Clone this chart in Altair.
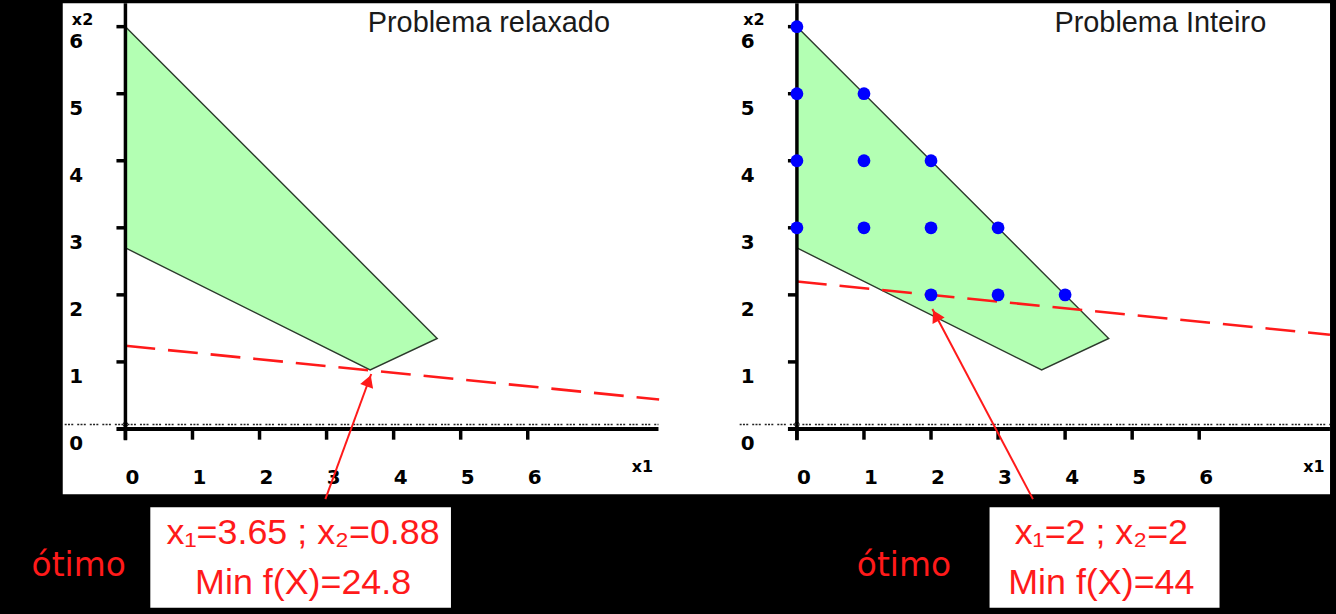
import math
import altair as alt
import pandas as pd

# ---------------- data ----------------
tick_values = [0, 1, 2, 3, 4, 5, 6]
tick_labels = ["0", "1", "2", "3", "4", "5", "6"]

# feasible region (upper and lower boundary at the break points)
region_x = [0.0, 3.65, 4.65]
region_upper = [6.0, 2.35, 1.35]
region_lower = [2.7, 0.88, 1.35]

# objective function lines (f = 24.8 and f = 44)
obj_relax_x = [0.0, 7.96]
obj_relax_y = [1.24, 0.44]
obj_int_x = [0.0, 7.95]
obj_int_y = [2.2, 1.405]

# integer feasible points
int_pts_x = [0, 0, 1, 0, 1, 2, 0, 1, 2, 3, 2, 3, 4]
int_pts_y = [6, 5, 5, 4, 4, 4, 3, 3, 3, 3, 2, 2, 2]

titles = ["Problema relaxado", "Problema Inteiro"]
box_line1 = ["x₁=3.65 ; x₂=0.88", "x₁=2 ; x₂=2"]
box_line2 = ["Min f(X)=24.8", "Min f(X)=44"]
optimum_word = "ótimo"
axis_names = ["x1", "x2"]

arrow_tip_x = [3.666, 2.02]
arrow_tip_y = [0.82, 1.79]
arrow_tail_x = [2.982, 3.52]
arrow_tail_y = [-1.047, -1.047]

# ---------------- layout (pixels) ----------------
W, H = 1336, 614
PX = 67.35                 # pixels per unit
AXIS_Y = 427.5             # pixel row of x2 = 0
ORIGIN_X = [126.0, 800.5]  # pixel column of x1 = 0 for each panel
OFF = [0.0, (ORIGIN_X[1] - ORIGIN_X[0]) / PX]   # panel shift in x units

X_DOM = [-ORIGIN_X[0] / PX, (W - ORIGIN_X[0]) / PX]
Y_DOM = [-(H - AXIS_Y) / PX, AXIS_Y / PX]

RED = "#ff1a1a"
GREEN = "#b3ffb3"
SANS = "Liberation Sans, Arial, sans-serif"

xs = alt.Scale(domain=X_DOM, nice=False, zero=False)
ys = alt.Scale(domain=Y_DOM, nice=False, zero=False)


def X(f):
    return alt.X(f, type="quantitative", scale=xs, axis=None)


def Y(f):
    return alt.Y(f, type="quantitative", scale=ys, axis=None)


def df(i, **cols):
    """DataFrame whose x-like columns (names starting with 'x') are shifted into panel i."""
    d = pd.DataFrame(cols)
    for c in d.columns:
        if c.startswith("x"):
            d[c] = d[c] + OFF[i]
    return d


layers = []

# white drawing area (one piece for both panels)
layers.append(alt.Chart(pd.DataFrame({"x": [-0.935], "x2": [X_DOM[1]],
                                      "y": [-0.973], "y2": [Y_DOM[1]]})).mark_rect(
    color="white").encode(x=X("x"), x2="x2", y=Y("y"), y2="y2"))


def panel(i):
    out = []
    # feasible region
    out.append(alt.Chart(df(i, x=region_x, up=region_upper, lo=region_lower)).mark_area(
        fill=GREEN, fillOpacity=1, stroke="#2c3a2c", strokeWidth=1.4
    ).encode(x=X("x"), y=Y("up"), y2="lo"))

    # objective line
    ox, oy = (obj_relax_x, obj_relax_y) if i == 0 else (obj_int_x, obj_int_y)
    out.append(alt.Chart(df(i, x=ox, y=oy)).mark_line(
        color=RED, strokeDash=[30, 13], strokeWidth=2.6
    ).encode(x=X("x"), y=Y("y")))

    # dotted line just above the x1 axis
    dot_start = -0.906 if i == 0 else -0.854
    out.append(alt.Chart(df(i, x=[dot_start], x2=[7.95], y=[0.067])).mark_rule(
        color="#222222", strokeDash=[2, 1.3, 2, 1.3, 2, 4], strokeWidth=1.6
    ).encode(x=X("x"), x2="x2", y=Y("y")))
    out.append(alt.Chart(df(i, x=[0], y=[0.067])).mark_point(
        shape="circle", size=22, filled=True, fill="white", stroke="#222222",
        strokeWidth=1, opacity=1).encode(x=X("x"), y=Y("y")))

    # axes
    out.append(alt.Chart(df(i, x=[0], y=[-0.17], y2=[Y_DOM[1]])).mark_rule(
        color="black", strokeWidth=3.5).encode(x=X("x"), y=Y("y"), y2="y2"))
    out.append(alt.Chart(df(i, x=[-0.134], x2=[7.95], y=[0])).mark_rule(
        color="black", strokeWidth=4).encode(x=X("x"), x2="x2", y=Y("y")))

    n = len(tick_values)
    out.append(alt.Chart(df(i, x=tick_values, y=[0] * n, y2=[-0.16] * n)).mark_rule(
        color="black", strokeWidth=3.5).encode(x=X("x"), y=Y("y"), y2="y2"))
    out.append(alt.Chart(df(i, x=[0] * (n - 1), x2=[-0.134] * (n - 1),
                            y=tick_values[1:])).mark_rule(
        color="black", strokeWidth=3.5).encode(x=X("x"), x2="x2", y=Y("y")))

    lab_style = dict(font="DejaVu Sans", fontWeight="bold", fontSize=20,
                     color="black", align="center", baseline="middle")
    out.append(alt.Chart(df(i, x=[v + 0.104 for v in tick_values], y=[-0.735] * n,
                            lab=tick_labels)).mark_text(**lab_style).encode(
        x=X("x"), y=Y("y"), text="lab:N"))
    out.append(alt.Chart(df(i, x=[-0.735] * n, y=[v - 0.23 for v in tick_values],
                            lab=tick_labels)).mark_text(**lab_style).encode(
        x=X("x"), y=Y("y"), text="lab:N"))

    out.append(alt.Chart(df(i, t=axis_names, x=[7.71, -0.64], y=[-0.57, 6.095])).mark_text(
        font="DejaVu Sans", fontWeight="bold", fontSize=16, color="black",
        align="center", baseline="middle").encode(x=X("x"), y=Y("y"), text="t:N"))

    out.append(alt.Chart(df(i, t=[titles[i]], x=[5.42], y=[6.05])).mark_text(
        font=SANS, fontSize=29, color="#1a1a1a", align="center",
        baseline="middle").encode(x=X("x"), y=Y("y"), text="t:N"))

    if i == 1:
        out.append(alt.Chart(df(i, x=int_pts_x, y=int_pts_y)).mark_point(
            shape="circle", size=165, filled=True, color="#0000ff", opacity=1
        ).encode(x=X("x"), y=Y("y")))

    # arrow to the optimum
    tx, ty, sx, sy = arrow_tip_x[i], arrow_tip_y[i], arrow_tail_x[i], arrow_tail_y[i]
    dx, dy = tx - sx, ty - sy
    ln = math.hypot(dx, dy)
    ang = math.degrees(math.atan2(dx, dy)) % 360
    out.append(alt.Chart(df(i, x=[sx], y=[sy], x2=[tx], y2=[ty])).mark_rule(
        color=RED, strokeWidth=2).encode(x=X("x"), y=Y("y"), x2="x2", y2="y2"))
    out.append(alt.Chart(df(i, x=[tx - 0.11 * dx / ln], y=[ty - 0.11 * dy / ln],
                            a=[ang])).mark_point(
        shape="triangle-up", size=190, filled=True, color=RED, opacity=1
    ).encode(x=X("x"), y=Y("y"), angle=alt.Angle("a:Q", scale=None)))

    # result box
    bx0, bx1 = ([0.371, 4.855] if i == 0 else [2.873, 6.303])
    out.append(alt.Chart(df(i, x=[bx0], x2=[bx1], y=[-1.166], y2=[-2.665])).mark_rect(
        color="white").encode(x=X("x"), x2="x2", y=Y("y"), y2="y2"))
    cx = 2.65 if i == 0 else 4.54
    out.append(alt.Chart(df(i, t=[box_line1[i], box_line2[i]], x=[cx, cx],
                            y=[-1.715, -2.457])).mark_text(
        font=SANS, fontSize=36, color=RED, align="center",
        baseline="alphabetic").encode(x=X("x"), y=Y("y"), text="t:N"))
    out.append(alt.Chart(df(i, t=[optimum_word], x=[-0.698 if i == 0 else 1.596],
                            y=[-2.19])).mark_text(
        font="DejaVu Sans", fontSize=33, color=RED, align="center",
        baseline="alphabetic").encode(x=X("x"), y=Y("y"), text="t:N"))
    return out


layers += panel(0) + panel(1)

chart = alt.layer(*layers).properties(
    width=W, height=H, padding=0, background="black"
).configure_view(strokeWidth=0)

chart.save("out.html", embed_options={"renderer": "svg", "actions": False})
